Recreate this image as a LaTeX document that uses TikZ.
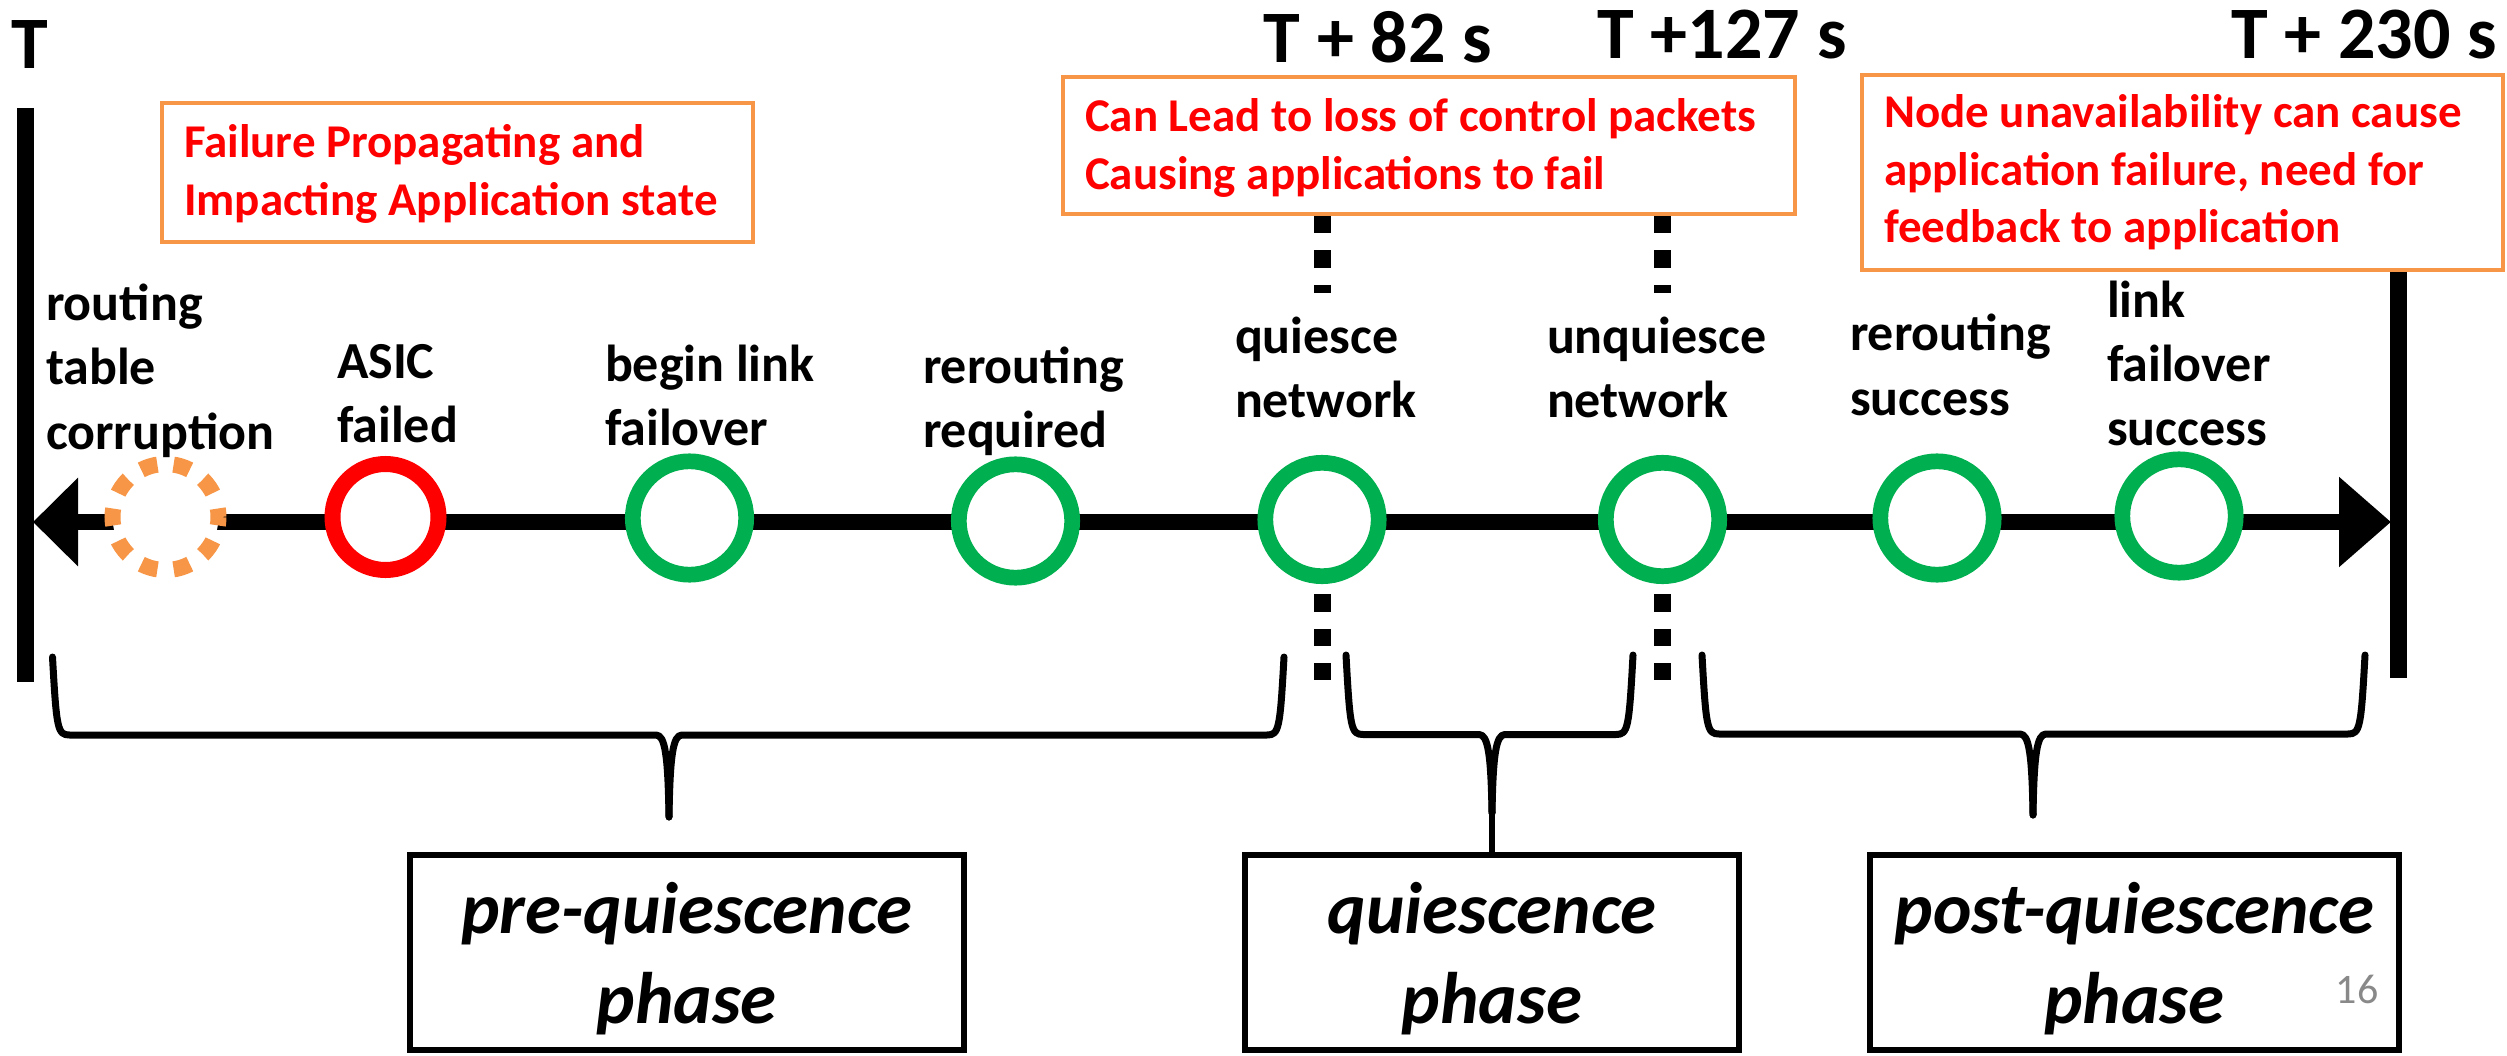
\documentclass[tikz,border=0pt]{standalone}
\usepackage{fontspec}
\setmainfont{Carlito}
\usetikzlibrary{arrows.meta}

\definecolor{evgreen}{HTML}{00B050}
\definecolor{evred}{HTML}{FF0000}
\definecolor{noteorange}{HTML}{F79646}
\definecolor{pagegray}{HTML}{898989}

% stacked lines; the baseline of the first line is the node's baseline
\newcommand\linesL[1]{\begin{tabular}[t]{@{}l@{}}#1\end{tabular}}
\newcommand\linesC[1]{\begin{tabular}[t]{@{}c@{}}#1\end{tabular}}

% curly brace opening upwards: left x, centre x, right x, arm top y, bar y, tip y
\newcommand\drawphasebrace[6]{%
  \draw[phasebrace] (#1,#4) .. controls (#1+4,#5-6) and (#1+5,#5) .. (#1+17,#5)
     -- (#2-13,#5) .. controls (#2-4,#5) and (#2-1,#5+20) .. (#2,#6);
  \draw[phasebrace] (#3,#4) .. controls (#3-4,#5-6) and (#3-5,#5) .. (#3-17,#5)
     -- (#2+13,#5) .. controls (#2+4,#5) and (#2+1,#5+20) .. (#2,#6);
}

\begin{document}
\begin{tikzpicture}[x=1pt,y=-1pt,
  evlabel/.style={font=\fontsize{52}{64}\selectfont\bfseries, inner sep=0pt, outer sep=0pt, anchor=base west},
  masklabel/.style={evlabel, fill=white, text height=60pt, text depth=99pt},
  timelabel/.style={font=\fontsize{74}{80}\selectfont\bfseries, inner sep=0pt, outer sep=0pt, anchor=base},
  notebox/.style={draw=noteorange, line width=4pt, fill=white, text=evred,
    font=\fontsize{47}{57.5}\selectfont\bfseries, inner ysep=0pt, inner xsep=22pt,
    outer sep=0pt, anchor=base west},
  okevent/.style={circle, draw=evgreen, line width=15.7pt, fill=white,
    minimum size=113.4pt, inner sep=0pt, outer sep=0pt},
  failevent/.style={circle, draw=evred, line width=16pt, fill=white,
    minimum size=106pt, inner sep=0pt, outer sep=0pt},
  rootevent/.style={failevent, draw=noteorange, dash pattern=on 17pt off 16.3pt, dash phase=8.5pt},
  phasebox/.style={draw, line width=6pt, inner sep=0pt, outer sep=0pt, anchor=base,
    font=\fontsize{73}{90}\selectfont\bfseries\itshape, text height=78pt, text depth=117pt},
  timebar/.style={line width=17pt},
  axisline/.style={line width=16.5pt, {Triangle[length=45pt,width=86pt]}-{Triangle[length=52pt,width=87pt]}},
  phasebrace/.style={line width=7pt, line cap=round, line join=round},
  quiescemark/.style={line width=17pt, dash pattern=on 17.2pt off 17.2pt, shorten <=2pt},
]
\useasboundingbox (0,0) rectangle (2507,1056);

% start and end bars of the time window
\coordinate (barLtop) at (25.5,108);
\coordinate (barLbot) at (25.5,682);
\coordinate (barRtop) at (2398.5,270);
\coordinate (barRbot) at (2398.5,678);
\draw[timebar] (barLtop) -- (barLbot);
\draw[timebar] (barRtop) -- (barRbot);

% time axis
\coordinate (axisL) at (33,522);
\coordinate (axisR) at (2391,522);
\draw[axisline] (axisL) -- (axisR);

% phase braces
\drawphasebrace{52.5}{669}{1284}{657}{735}{817}
\drawphasebrace{1346}{1492}{1633}{655}{734.5}{813}
\drawphasebrace{1702}{2033}{2365}{655}{734}{815}
\coordinate (quietip) at (1492,813);

% impact notes
\node[notebox, text height=55pt, text depth=84pt] (note1) at (162,158)
  {\makebox[547pt][l]{\linesL{Failure Propagating and\\Impacting Application state}}};
\node[notebox, text height=55pt, text depth=82pt] (note2) at (1063,132)
  {\makebox[688pt][l]{\linesL{Can Lead to loss of control packets\\Causing applications to fail}}};
\node[notebox, text height=53pt, text depth=142pt] (note3) at (1862,128)
  {\makebox[597pt][l]{\linesL{Node unavailability can cause\\application failure, need for\\feedback to application}}};

% quiescence window markers
\coordinate (qend) at (1322.5,680);
\coordinate (uend) at (1662.5,680);
\draw[quiescemark] (note2.south -| qend) -- (qend);
\draw[quiescemark] (note2.south -| uend) -- (uend);

% events on the axis
\node[rootevent] (root) at (165.5,517) {};
\node[failevent] (asic) at (385.5,517) {};
\node[okevent] (begin) at (689.5,518) {};
\node[okevent] (reqd) at (1015.5,521) {};
\node[okevent] (quiesce) at (1322,519.5) {};
\node[okevent] (unquiesce) at (1662.5,519.5) {};
\node[okevent] (rsucc) at (1937,518) {};
\node[okevent] (lsucc) at (2179,516) {};

% event labels
\node[evlabel] (lroot) at (46,321) {\linesL{routing\\table\\corruption}};
\node[evlabel] (lasic) at (337,378) {\linesL{ASIC\\failed}};
\node[evlabel] (lbegin) at (605,381) {\linesL{begin link\\failover}};
\node[evlabel] (lreqd) at (923,383) {\linesL{rerouting\\required}};
\node[masklabel] (lquiesce) at (1235,353) {\linesL{quiesce\\network}};
\node[masklabel] (lunquiesce) at (1547,353) {\linesL{unquiesce\\network}};
\node[evlabel] (lrsucc) at (1850,351) {\linesL{rerouting\\success}};
\node[evlabel] (llsucc) at (2107,318) {\linesL{link\\failover\\success}};

% phases
\node[phasebox, minimum width=553.5pt] (prephase) at (686.75,933) {\linesC{pre-quiescence\\phase}};
\node[phasebox, minimum width=494.5pt] (qphase) at (1492,933) {\linesC{quiescence\\phase}};
\node[phasebox, minimum width=529pt] (postphase) at (2134.5,933) {\linesC{post-quiescence\\phase}};
\draw[line width=6pt] (quietip) -- (qphase.north);

% time stamps
\node[timelabel, anchor=base west] (t0) at (12,69) {T};
\node[timelabel] (t82) at (1378,63) {T + 82 s};
\node[timelabel] (t127) at (1722,59) {T +127 s};
\node[timelabel] (t230) at (2364,59) {T + 230 s};

% slide number
\node[font=\fontsize{42}{50}\selectfont, text=pagegray, inner sep=0pt, anchor=base] (pagenum) at (2357,1003) {16};
\end{tikzpicture}
\end{document}
